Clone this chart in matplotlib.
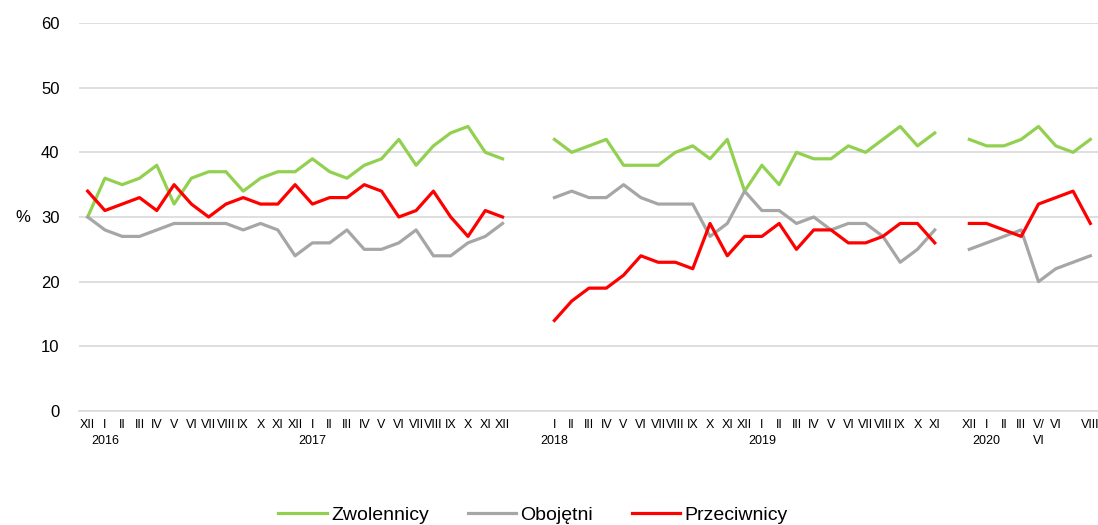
import numpy as np
import matplotlib
matplotlib.use("Agg")
import matplotlib.pyplot as plt

plt.rcParams['font.family'] = ['Liberation Sans', 'DejaVu Sans']

# month labels (None in values = gap between survey periods)
months = ['XII', 'I', 'II', 'III', 'IV', 'V', 'VI', 'VII', 'VIII', 'IX', 'X', 'XI', 'XII',
          'I', 'II', 'III', 'IV', 'V', 'VI', 'VII', 'VIII', 'IX', 'X', 'XI', 'XII',
          '', '',
          'I', 'II', 'III', 'IV', 'V', 'VI', 'VII', 'VIII', 'IX', 'X', 'XI', 'XII',
          'I', 'II', 'III', 'IV', 'V', 'VI', 'VII', 'VIII', 'IX', 'X', 'XI',
          '',
          'XII', 'I', 'II', 'III', 'V/', 'VI', '', 'VIII']
# second label row: years, plus the wrapped part of "V/ VI"
second_row = {1: '2016', 13: '2017', 27: '2018', 39: '2019', 52: '2020', 55: 'VI'}

zwolennicy = [30, 36, 35, 36, 38, 32, 36, 37, 37, 34, 36, 37, 37,
              39, 37, 36, 38, 39, 42, 38, 41, 43, 44, 40, 39,
              None, None,
              42, 40, 41, 42, 38, 38, 38, 40, 41, 39, 42, 34,
              38, 35, 40, 39, 39, 41, 40, 42, 44, 41, 43,
              None,
              42, 41, 41, 42, 44, 41, 40, 42]
obojetni = [30, 28, 27, 27, 28, 29, 29, 29, 29, 28, 29, 28, 24,
            26, 26, 28, 25, 25, 26, 28, 24, 24, 26, 27, 29,
            None, None,
            33, 34, 33, 33, 35, 33, 32, 32, 32, 27, 29, 34,
            31, 31, 29, 30, 28, 29, 29, 27, 23, 25, 28,
            None,
            25, 26, 27, 28, 20, 22, 23, 24]
przeciwnicy = [34, 31, 32, 33, 31, 35, 32, 30, 32, 33, 32, 32, 35,
               32, 33, 33, 35, 34, 30, 31, 34, 30, 27, 31, 30,
               None, None,
               14, 17, 19, 19, 21, 24, 23, 23, 22, 29, 24, 27,
               27, 29, 25, 28, 28, 26, 26, 27, 29, 29, 26,
               None,
               29, 29, 28, 27, 32, 33, 34, 29]

def arr(v):
    return np.array([np.nan if x is None else x for x in v], dtype=float)

x = np.arange(len(months))

fig = plt.figure(figsize=(10.98, 5.25), dpi=100)
ax = fig.add_axes([79 / 1098, 1 - 411 / 525, 1020 / 1098, 388 / 525])

ax.plot(x, arr(zwolennicy), color='#92D050', lw=2.3, label='Zwolennicy')
ax.plot(x, arr(obojetni), color='#A6A6A6', lw=2.3, label='Obojętni')
ax.plot(x, arr(przeciwnicy), color='#FF0000', lw=2.3, label='Przeciwnicy')

ax.set_xlim(-0.5, len(months) - 0.5)
ax.set_ylim(0, 60)
ax.set_yticks(range(0, 61, 10))
ax.yaxis.grid(True, color='#D9D9D9', lw=1.2)
ax.set_axisbelow(True)
for s in ['top', 'right', 'left']:
    ax.spines[s].set_visible(False)
ax.spines['bottom'].set_color('#D9D9D9')
ax.spines['bottom'].set_linewidth(1.2)

ax.set_xticks(x)
ax.set_xticklabels(months, fontsize=9)
ax.tick_params(axis='x', length=0, pad=6)
ax.tick_params(axis='y', length=0, pad=14, labelsize=12)

for i, t in second_row.items():
    ax.annotate(t, xy=(i, 0), xycoords=('data', 'axes fraction'),
                xytext=(0, -21.8), textcoords='offset points',
                ha='center', va='center', fontsize=9)

ax.set_ylabel('%', rotation=0, fontsize=12, va='center', ha='center')
ax.yaxis.set_label_coords(-56 / 1020, 0.5)

fig.legend(loc='center', bbox_to_anchor=(533 / 1098, 1 - 515 / 525), ncol=3,
           frameon=False, fontsize=14, handlelength=2.5, handletextpad=0.2,
           columnspacing=2.0)

fig.savefig('out.png', dpi=100)
